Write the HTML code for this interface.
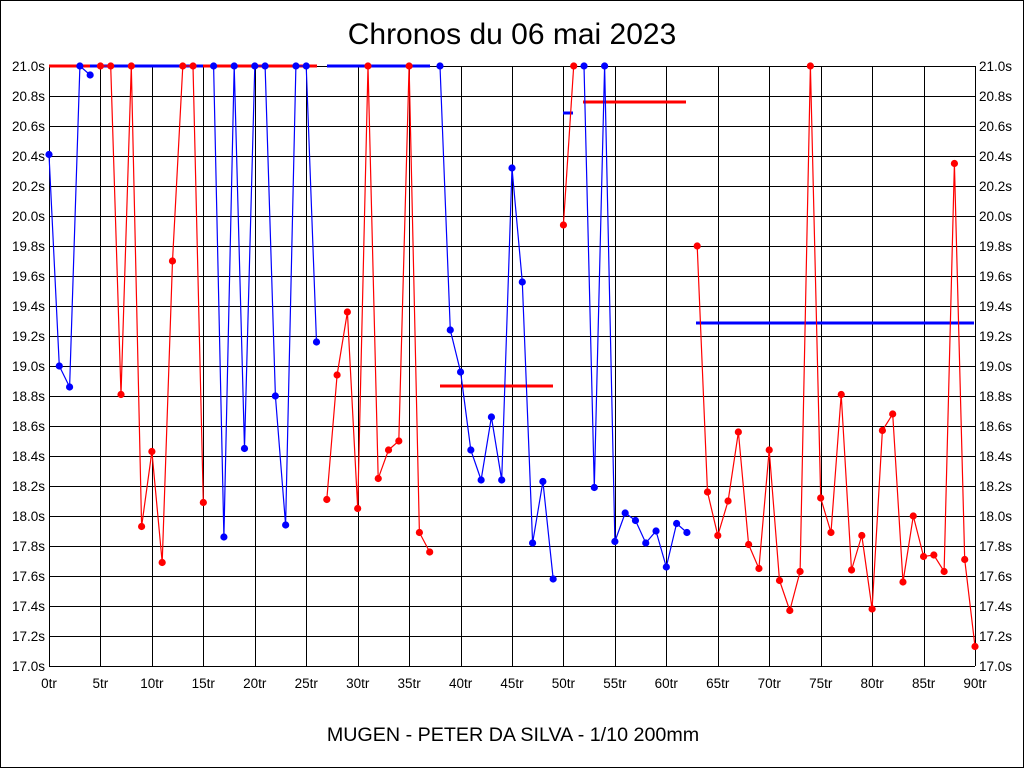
<!DOCTYPE html>
<html><head><meta charset="utf-8"><style>
html,body{margin:0;padding:0;background:#fff}
svg{display:block}
text{font-family:"Liberation Sans",Arial,sans-serif;fill:#000}
</style></head><body>
<svg id="s" width="1024" height="768" viewBox="0 0 1024 768" xmlns="http://www.w3.org/2000/svg">
<rect x="0.5" y="0.5" width="1023" height="767" fill="#fff" stroke="#000"/>
<text x="512" y="44" font-size="30" text-anchor="middle">Chronos du 06 mai 2023</text>
<text x="513" y="741" font-size="19.7" text-anchor="middle">MUGEN - PETER DA SILVA - 1/10 200mm</text>
<g id="grid" stroke="#000" stroke-width="1" shape-rendering="crispEdges"></g>
<g font-size="13.5" text-anchor="end">
<text x="45" y="71">21.0s</text><text x="45" y="101">20.8s</text><text x="45" y="131">20.6s</text><text x="45" y="161">20.4s</text><text x="45" y="191">20.2s</text><text x="45" y="221">20.0s</text><text x="45" y="251">19.8s</text><text x="45" y="281">19.6s</text><text x="45" y="311">19.4s</text><text x="45" y="341">19.2s</text><text x="45" y="371">19.0s</text><text x="45" y="401">18.8s</text><text x="45" y="431">18.6s</text><text x="45" y="461">18.4s</text><text x="45" y="491">18.2s</text><text x="45" y="521">18.0s</text><text x="45" y="551">17.8s</text><text x="45" y="581">17.6s</text><text x="45" y="611">17.4s</text><text x="45" y="641">17.2s</text><text x="45" y="671">17.0s</text>
</g>
<g font-size="13.5" text-anchor="start">
<text x="979" y="71">21.0s</text><text x="979" y="101">20.8s</text><text x="979" y="131">20.6s</text><text x="979" y="161">20.4s</text><text x="979" y="191">20.2s</text><text x="979" y="221">20.0s</text><text x="979" y="251">19.8s</text><text x="979" y="281">19.6s</text><text x="979" y="311">19.4s</text><text x="979" y="341">19.2s</text><text x="979" y="371">19.0s</text><text x="979" y="401">18.8s</text><text x="979" y="431">18.6s</text><text x="979" y="461">18.4s</text><text x="979" y="491">18.2s</text><text x="979" y="521">18.0s</text><text x="979" y="551">17.8s</text><text x="979" y="581">17.6s</text><text x="979" y="611">17.4s</text><text x="979" y="641">17.2s</text><text x="979" y="671">17.0s</text>
</g>
<g font-size="13.5" text-anchor="middle">
<text x="49" y="688">0tr</text><text x="100.4" y="688">5tr</text><text x="151.9" y="688">10tr</text><text x="203.3" y="688">15tr</text><text x="254.8" y="688">20tr</text><text x="306.2" y="688">25tr</text><text x="357.7" y="688">30tr</text><text x="409.1" y="688">35tr</text><text x="460.6" y="688">40tr</text><text x="512" y="688">45tr</text><text x="563.4" y="688">50tr</text><text x="614.9" y="688">55tr</text><text x="666.3" y="688">60tr</text><text x="717.8" y="688">65tr</text><text x="769.2" y="688">70tr</text><text x="820.7" y="688">75tr</text><text x="872.1" y="688">80tr</text><text x="923.6" y="688">85tr</text><text x="975" y="688">90tr</text>
</g>
<g id="hl" stroke-width="3"></g>
<g id="ser" fill="none" stroke-width="1.2"></g>
<g id="dots"></g>
</svg>
<script>
var NS="http://www.w3.org/2000/svg";
function el(p,t,a){var e=document.createElementNS(NS,t);for(var k in a)e.setAttribute(k,a[k]);p.appendChild(e);return e;}
var X=function(i){return 49+i*926/90;},Y=function(v){return 66+(21-v)*150;};
var g=document.getElementById('grid');
for(var i=0;i<=18;i++){var x=Math.round(X(i*5))+0.5;el(g,'line',{x1:x,y1:66,x2:x,y2:666});}
for(var j=0;j<=20;j++){var y=66+j*30+0.5;el(g,'line',{x1:49,y1:y,x2:975,y2:y});}
var R='#ff0000',B='#0000ff';
var hl=document.getElementById('hl');
[[49,90,66,R],[90,101,66,B],[101,203,66,B],[203,317,66,R],[327,430,66,B],
 [440,553,386,R],[563,573,113,B],[583,686,102,R],[696,974,323,B]].forEach(function(s){
 el(hl,'line',{x1:s[0],x2:s[1],y1:s[2],y2:s[2],stroke:s[3]});});
var d=[20.41,19.0,18.86,21,20.94, 21,21,18.81,21,17.93,18.43,17.69,19.7,21,21,18.09,
21,17.86,21,18.45,21,21,18.8,17.94,21,21,19.16,
18.11,18.94,19.36,18.05,21,18.25,18.44,18.5,21,17.89,17.76,
21,19.24,18.96,18.44,18.24,18.66,18.24,20.32,19.56,17.82,18.23,17.58,
19.94,21,
21,18.19,21,17.83,18.02,17.97,17.82,17.9,17.66,17.95,17.89,
19.8,18.16,17.87,18.1,18.56,17.81,17.65,18.44,17.57,17.37,17.63,21,18.12,17.89,18.81,17.64,17.87,17.38,18.57,18.68,17.56,18.0,17.73,17.74,17.63,20.35,17.71,17.13];
var groups=[[0,4,B],[5,15,R],[16,26,B],[27,37,R],[38,49,B],[50,51,R],[52,62,B],[63,90,R]];
var ser=document.getElementById('ser'),dots=document.getElementById('dots');
groups.forEach(function(gr){
 var pts=[];for(var k=gr[0];k<=gr[1];k++)pts.push(X(k).toFixed(1)+','+Y(d[k]).toFixed(1));
 el(ser,'polyline',{points:pts.join(' '),stroke:gr[2]});
 for(var k=gr[0];k<=gr[1];k++)el(dots,'circle',{cx:X(k),cy:Y(d[k]),r:3.6,fill:gr[2]});
});
</script>
</body></html>
